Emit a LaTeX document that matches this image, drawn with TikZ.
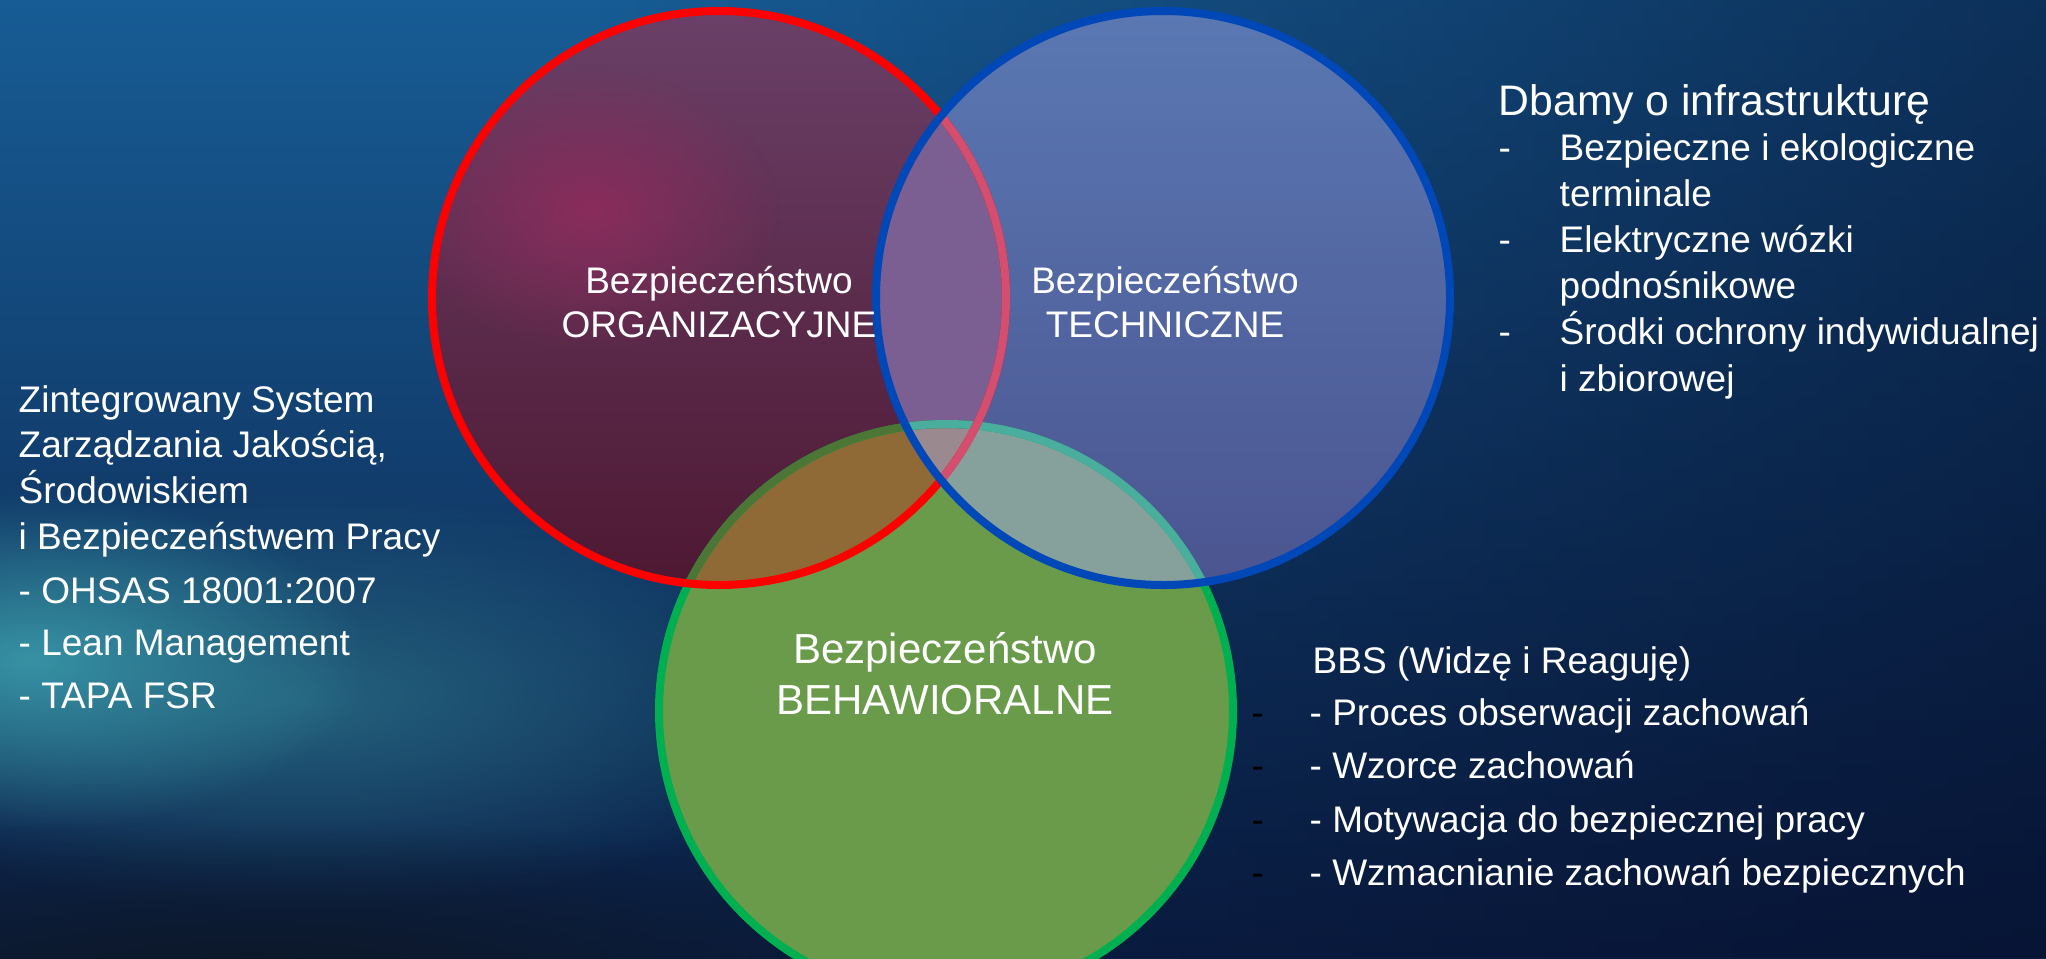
\documentclass[tikz,border=0pt]{standalone}
\usepackage{fontspec}
\setmainfont{Liberation Sans}
\usetikzlibrary{fadings}

\tikzfading[name=glowfade, inner color=transparent!0, outer color=transparent!100]
\tikzfading[name=fadeleft, left color=transparent!100, right color=transparent!0]
\newcommand{\vennr}{2.87}

\tikzset{
  txt/.style={anchor=base west, text=white, inner sep=0pt, font=\fontsize{10.53}{12.6}\selectfont},
  lbl/.style={anchor=base, text=white, inner sep=0pt, font=\fontsize{10.53}{12.6}\selectfont},
  ring/.style={line width=0.08cm},
}

\begin{document}
\begin{tikzpicture}
  \definecolor{bgtop}{HTML}{175C95}
  \definecolor{bgbot}{HTML}{0B1E44}
  \definecolor{bgdark}{HTML}{040C28}
  \definecolor{tealglow}{HTML}{3A9AAA}
  \definecolor{tealdim}{HTML}{2A6E86}
  \definecolor{bandcol}{HTML}{0D1828}
  \definecolor{rdtop}{HTML}{6A4068}
  \definecolor{rdmid}{HTML}{5E2148}
  \definecolor{rdbot}{HTML}{4E1832}
  \definecolor{rdglow}{HTML}{8A2C5C}
  \definecolor{grfill}{HTML}{699B4A}
  \definecolor{rgfill}{HTML}{8F6A36}
  \definecolor{bltop}{HTML}{5A78B3}
  \definecolor{blbot}{HTML}{4B5590}
  \definecolor{rbfill}{HTML}{7B5E92}
  \definecolor{bgfill}{HTML}{86A19B}
  \definecolor{rbgfill}{HTML}{9A8A90}
  \definecolor{grline}{HTML}{00B050}
  \definecolor{grdim}{HTML}{4B7636}
  \definecolor{grteal}{HTML}{4AAE9E}
  \definecolor{rdline}{HTML}{FF0000}
  \definecolor{rdpink}{HTML}{D44E70}
  \definecolor{blline}{HTML}{0047B8}

  \useasboundingbox (0,0) rectangle (20.46,-9.58);
  \clip (0,0) rectangle (20.46,-9.58);

  % background
  \shade[top color=bgtop, bottom color=bgbot] (0,0) rectangle (20.46,-9.58);
  \fill[bgdark, opacity=0.55, path fading=fadeleft] (6,0) rectangle (20.46,-9.58);
  \fill[tealdim, opacity=0.8, path fading=glowfade] (3.0,-7.0) ellipse (5.5 and 2.1);
  \fill[tealglow, opacity=0.9, path fading=glowfade] (0.3,-6.6) ellipse (3.4 and 1.7);
  \fill[bandcol, path fading=glowfade] (2.5,-9.7) ellipse (8 and 1.5);

  \coordinate (org) at (7.19,-2.98);
  \coordinate (tech) at (11.63,-2.98);
  \coordinate (beh) at (9.46,-7.11);

  % fills
  \fill[grfill] (beh) circle (\vennr);
  \shade[top color=rdtop, middle color=rdmid, bottom color=rdbot] (org) circle (\vennr);
  \begin{scope}
    \clip (org) circle (\vennr);
    \fill[rdglow, path fading=glowfade] (5.9,-2.1) ellipse (1.9 and 1.4);
    \fill[rgfill] (beh) circle (\vennr);
  \end{scope}
  \shade[top color=bltop, bottom color=blbot] (tech) circle (\vennr);
  \begin{scope}
    \clip (tech) circle (\vennr);
    \fill[rbfill] (org) circle (\vennr);
    \fill[bgfill] (beh) circle (\vennr);
    \clip (org) circle (\vennr);
    \fill[rbgfill] (beh) circle (\vennr);
  \end{scope}

  % rings
  \draw[ring, grline] (beh) circle (\vennr);
  \begin{scope}
    \clip (org) circle (\vennr);
    \draw[ring, grdim] (beh) circle (\vennr);
  \end{scope}
  \begin{scope}
    \clip (tech) circle (\vennr);
    \draw[ring, grteal] (beh) circle (\vennr);
  \end{scope}
  \draw[ring, rdline] (org) circle (\vennr);
  \begin{scope}
    \clip (tech) circle (\vennr);
    \draw[ring, rdpink] (org) circle (\vennr);
  \end{scope}
  \draw[ring, blline] (tech) circle (\vennr);

  % circle labels
  \node[lbl] (orgA) at (7.19,-2.93) {Bezpieczeństwo};
  \node[lbl] (orgB) at (7.19,-3.37) {ORGANIZACYJNE};
  \node[lbl] (techA) at (11.65,-2.93) {Bezpieczeństwo};
  \node[lbl] (techB) at (11.65,-3.37) {TECHNICZNE};
  \node[lbl, font=\fontsize{11.95}{14}\selectfont] (behA) at (9.45,-6.63) {Bezpieczeństwo};
  \node[lbl, font=\fontsize{11.95}{14}\selectfont] (behB) at (9.45,-7.14) {BEHAWIORALNE};

  % left block
  \foreach \t [count=\i] in {Zintegrowany System, {Zarządzania Jakością,}, Środowiskiem, i Bezpieczeństwem Pracy}
    \node[txt] (zs\i) at (0.18,{-4.12-0.457*(\i-1)}) {\t};
  \foreach \t [count=\i] in {- OHSAS 18001:2007, - Lean Management, - TAPA FSR}
    \node[txt] (zi\i) at (0.18,{-6.03-0.525*(\i-1)}) {\t};

  % infrastructure block
  \node[txt, font=\fontsize{12.15}{14}\selectfont] (infra) at (14.98,-1.15) {Dbamy o infrastrukturę};
  \foreach \t [count=\i] in {Bezpieczne i ekologiczne, terminale, Elektryczne wózki, podnośnikowe, Środki ochrony indywidualnej, i zbiorowej}
    \node[txt] (inf\i) at (15.59,{-1.60-0.462*(\i-1)}) {\t};
  \foreach \i in {1,3,5}
    \node[txt] (infd\i) at (14.98,{-1.60-0.462*(\i-1)}) {-};

  % BBS block
  \node[txt] (bbs) at (13.12,-6.73) {BBS (Widzę i Reaguję)};
  \foreach \t [count=\i] in {- Proces obserwacji zachowań, - Wzorce zachowań, - Motywacja do bezpiecznej pracy, - Wzmacnianie zachowań bezpiecznych} {
    \node[txt] (bb\i) at (13.09,{-7.25-0.535*(\i-1)}) {\t};
    \node[txt, text=black] (bbd\i) at (12.51,{-7.25-0.535*(\i-1)}) {-};
  }
\end{tikzpicture}
\end{document}
